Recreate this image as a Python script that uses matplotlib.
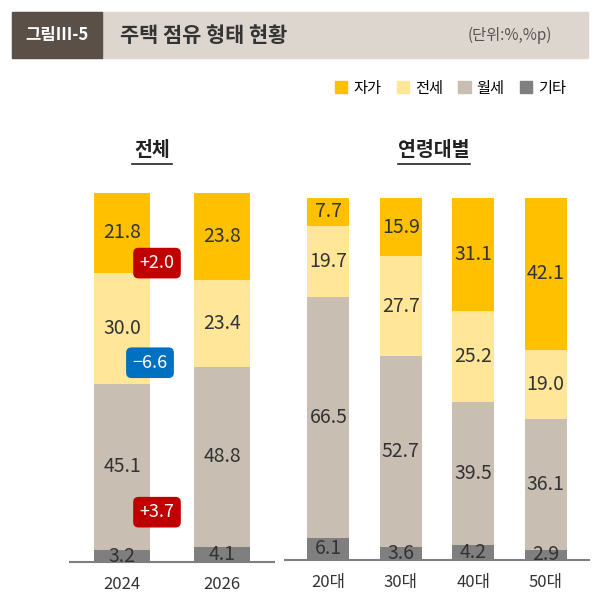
import matplotlib.pyplot as plt
from matplotlib.patches import Patch, Rectangle

plt.rcParams['font.family'] = ['Noto Sans CJK KR', 'DejaVu Sans']

series = ['기타', '월세', '전세', '자가']
colors = ['#7F7F7F', '#C9BEB2', '#FFE699', '#FFC000']

years = ['2024', '2026']
total_vals = {
    '기타': [3.2, 4.1],
    '월세': [45.1, 48.8],
    '전세': [30.0, 23.4],
    '자가': [21.8, 23.8],
}
ages = ['20대', '30대', '40대', '50대']
age_vals = {
    '기타': [6.1, 3.6, 4.2, 2.9],
    '월세': [66.5, 52.7, 39.5, 36.1],
    '전세': [19.7, 27.7, 25.2, 19.0],
    '자가': [7.7, 15.9, 31.1, 42.1],
}
changes = ['+3.7', '−6.6', '+2.0']  # 월세, 전세, 자가
change_colors = ['#C00000', '#0070C0', '#C00000']

W, H = 596, 612
fig = plt.figure(figsize=(W / 100, H / 100), dpi=100)


def px(x0, y0, x1, y1):
    return [x0 / W, 1 - y1 / H, (x1 - x0) / W, (y1 - y0) / H]


# header
fig.patches.append(Rectangle((12 / W, 1 - 58 / H), 576 / W, 46 / H, transform=fig.transFigure,
                             color='#DDD6CE', zorder=0))
fig.patches.append(Rectangle((12 / W, 1 - 58 / H), 90 / W, 46 / H, transform=fig.transFigure,
                             color='#5A5048', zorder=1))
fig.text(57 / W, 1 - 35 / H, '그림III-5', color='white', fontsize=12, fontweight='bold',
         ha='center', va='center')
fig.text(120 / W, 1 - 35 / H, '주택 점유 형태 현황', color='#333333', fontsize=15, fontweight='bold',
         va='center')
fig.text(552 / W, 1 - 35 / H, '(단위:%,%p)', color='#555555', fontsize=11, ha='right', va='center')

handles = [Patch(color=c, label=s) for s, c in zip(series[::-1], colors[::-1])]
fig.legend(handles=handles, loc='center right', bbox_to_anchor=(580 / W, 1 - 88 / H), ncol=4,
           frameon=False, handlelength=0.8, handleheight=0.8, handletextpad=0.4,
           columnspacing=1.0, fontsize=11)


def stack(ax, labels, vals, width):
    x = list(range(len(labels)))
    bottom = [0] * len(labels)
    for s, c in zip(series, colors):
        v = vals[s]
        ax.bar(x, v, width, bottom=bottom, color=c, zorder=2)
        for i in x:
            ax.text(i, bottom[i] + v[i] / 2, f'{v[i]:.1f}', ha='center', va='center',
                    fontsize=14, color='#333333', zorder=3)
        bottom = [b + vv for b, vv in zip(bottom, v)]
    ax.set_ylim(0, 100)
    ax.set_xticks(x)
    ax.set_xticklabels(labels, fontsize=12, color='#333333')
    ax.tick_params(length=0, pad=10)
    for sp in ['top', 'right', 'left']:
        ax.spines[sp].set_visible(False)
    ax.spines['bottom'].set_color('#7F7F7F')
    ax.spines['bottom'].set_linewidth(1.5)
    ax.set_yticks([])
    ax.patch.set_alpha(0)


ax1 = fig.add_axes(px(70, 193, 274, 562))
stack(ax1, years, total_vals, 0.56)
ax1.set_xlim(-0.52, 1.52)
# 변화폭 배지 (월세, 전세, 자가)
for x, y, t, c in zip([0.35, 0.28, 0.35], [13.5, 54, 81], changes, change_colors):
    ax1.text(x, y, t, ha='center', va='center', fontsize=13, color='white', zorder=4,
             bbox=dict(boxstyle='round,pad=0.35,rounding_size=0.3', fc=c, ec='none'))

ax2 = fig.add_axes(px(285, 198, 589, 560))
stack(ax2, ages, age_vals, 0.58)
ax2.set_xlim(-0.6, 3.6)

# panel titles with underline
for cx, hw, t in [(152, 20, '전체'), (434, 36, '연령대별')]:
    fig.text(cx / W, 1 - 151 / H, t, fontsize=14, fontweight='bold', color='#222222',
             ha='center', va='center')
    fig.add_artist(plt.Line2D([(cx - hw) / W, (cx + hw) / W], [1 - 164 / H] * 2,
                              color='#222222', lw=1.2))

fig.savefig('out.png', dpi=100)
